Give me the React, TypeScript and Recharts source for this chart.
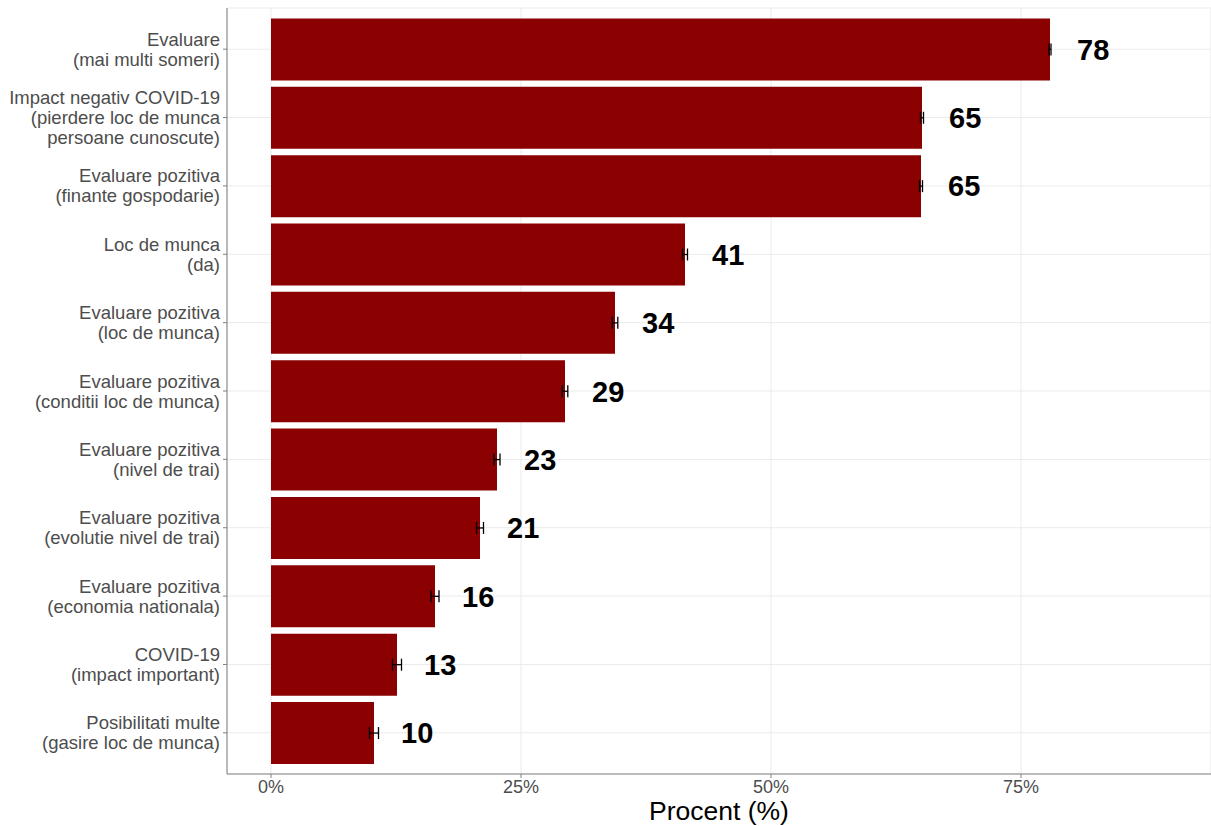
import React from 'react';
import {
  BarChart,
  Bar,
  XAxis,
  YAxis,
  CartesianGrid,
  ErrorBar,
  LabelList,
} from 'recharts';

const categories = [
  'Evaluare\n(mai multi someri)',
  'Impact negativ COVID-19\n(pierdere loc de munca\npersoane cunoscute)',
  'Evaluare pozitiva\n(finante gospodarie)',
  'Loc de munca\n(da)',
  'Evaluare pozitiva\n(loc de munca)',
  'Evaluare pozitiva\n(conditii loc de munca)',
  'Evaluare pozitiva\n(nivel de trai)',
  'Evaluare pozitiva\n(evolutie nivel de trai)',
  'Evaluare pozitiva\n(economia nationala)',
  'COVID-19\n(impact important)',
  'Posibilitati multe\n(gasire loc de munca)',
];
const values = [77.9, 65.1, 65.0, 41.4, 34.4, 29.4, 22.6, 20.9, 16.4, 12.6, 10.3];
const errors = [0.1, 0.15, 0.15, 0.25, 0.28, 0.28, 0.3, 0.35, 0.4, 0.45, 0.45];
const majorTicks = [0, 25, 50, 75];
const minorTicks = [12.5, 37.5, 62.5, 87.5];

const data = categories.map((name, i) => ({ name, value: values[i], err: errors[i] }));

const FONT = '"Liberation Sans", Arial, Helvetica, sans-serif';
const AXIS = '#808080';
const GRID = '#EBEBEB';

const CategoryTick = (props: any) => {
  const { x, y, payload } = props;
  const lines: string[] = String(payload.value).split('\n');
  const lh = 20;
  const start = -((lines.length - 1) / 2) * lh;
  return (
    <text x={x} y={y} textAnchor="end" fill="#4D4D4D" fontSize={18.5} fontFamily={FONT}>
      {lines.map((l, i) => (
        <tspan key={i} x={x} dy={i === 0 ? start + 6.5 : lh}>
          {l}
        </tspan>
      ))}
    </text>
  );
};

const AxisTitle = (props: any) => {
  const { viewBox } = props;
  return (
    <text
      x={viewBox.x + viewBox.width / 2}
      y={819.5}
      textAnchor="middle"
      fill="#000"
      fontSize={26.5}
      fontFamily={FONT}
    >
      Procent (%)
    </text>
  );
};

export default function App() {
  return (
    <div style={{ position: 'absolute', left: 0, top: 0, width: 1211, height: 826, background: '#fff' }}>
      <BarChart
        width={1211}
        height={826}
        data={data}
        layout="vertical"
        margin={{ top: 8, right: 0, left: 0, bottom: 0 }}
        barCategoryGap="5%"
      >
        <CartesianGrid xAxisId="top" horizontal={false} stroke={GRID} strokeWidth={0.6} />
        <CartesianGrid stroke={GRID} strokeWidth={1} />
        <XAxis
          type="number"
          domain={[-4.4, 94]}
          allowDataOverflow
          ticks={majorTicks}
          tickFormatter={(v: number) => `${v}%`}
          height={52}
          tickSize={4}
          tickMargin={2}
          stroke={AXIS}
          tick={{ fill: '#4D4D4D', fontSize: 18, fontFamily: FONT }}
          label={<AxisTitle />}
        />
        <XAxis
          xAxisId="top"
          orientation="top"
          type="number"
          domain={[-4.4, 94]}
          allowDataOverflow
          ticks={minorTicks}
          height={0}
          tick={false}
          tickLine={false}
          stroke={AXIS}
        />
        <YAxis
          type="category"
          dataKey="name"
          width={227}
          tickSize={4}
          tickMargin={3}
          stroke={AXIS}
          padding={{ top: 7, bottom: 7 }}
          tick={<CategoryTick />}
          interval={0}
        />
        <Bar dataKey="value" fill="#8B0000" isAnimationActive={false}>
          <ErrorBar dataKey="err" direction="x" width={6} stroke="#000" strokeWidth={1.3} />
          <LabelList
            dataKey="value"
            position="right"
            offset={27}
            formatter={(v: any) => Math.round(Number(v))}
            fill="#000"
            fontSize={29}
            fontWeight="bold"
            fontFamily={FONT}
          />
        </Bar>
      </BarChart>
    </div>
  );
}
